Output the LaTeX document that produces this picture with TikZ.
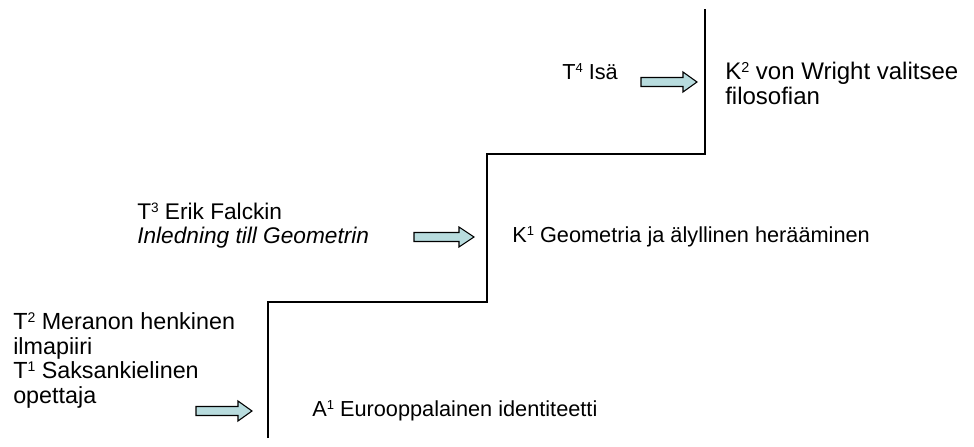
\documentclass[tikz,border=0pt]{standalone}
\usepackage{fontspec}
\setmainfont{Liberation Sans}
\definecolor{arrowcol}{RGB}{184,220,222}
\newcommand\supr[1]{\raisebox{0.29em}{\fontsize{0.6em}{1em}\selectfont #1}}
\newcommand\blkarrow[4]{%
  \draw[arrowfill] ({#1},{#3-4.5}) -- ({#2-#4},{#3-4.5}) -- ({#2-#4},{#3-10}) -- ({#2},{#3})
    -- ({#2-#4},{#3+10}) -- ({#2-#4},{#3+4.5}) -- ({#1},{#3+4.5}) -- cycle;}
\begin{document}
\begin{tikzpicture}[x=0.75pt,y=-0.75pt,
  lbl/.style={anchor=base west, inner sep=0pt, font=\fontsize{17}{19}\selectfont},
  lblsmall/.style={lbl, font=\fontsize{16.3}{19}\selectfont},
  lblmid/.style={lbl, font=\fontsize{17.5}{19}\selectfont},
  lblbig/.style={lbl, font=\fontsize{18}{19}\selectfont},
  stair/.style={line width=1.5pt, line join=miter},
  arrowfill/.style={draw=black, line width=0.8pt, fill=arrowcol, line join=miter}]
\useasboundingbox (0,0) rectangle (974,446);
% stairs
\coordinate (s0) at (268,438);
\coordinate (s1) at (268,302);
\coordinate (s2) at (487,302);
\coordinate (s3) at (487,154);
\coordinate (s4) at (705,154);
\coordinate (s5) at (705,9);
\draw[stair] (s0) -- (s1) -- (s2) -- (s3) -- (s4) -- (s5);
% texts
\node[lblsmall] (t4) at (562,79) {T\supr{4} Isä};
\node[lblbig] (k2a) at (725,79) {K\supr{2} von Wright valitsee};
\node[lblbig] (k2b) at (725,104) {filosofian};
\node[lbl] (t3a) at (137,219) {T\supr{3} Erik Falckin};
\node[lbl] (t3b) at (137,243) {\itshape Inledning till Geometrin};
\node[lblsmall] (k1) at (512,242) {K\supr{1} Geometria ja älyllinen herääminen};
\node[lblmid] (t2a) at (13,329) {T\supr{2} Meranon henkinen};
\node[lblmid] (t2b) at (13,354) {ilmapiiri};
\node[lblmid] (t1a) at (13,378) {T\supr{1} Saksankielinen};
\node[lblmid] (t1b) at (13,403) {opettaja};
\node[lblsmall] (a1) at (312,416) {A\supr{1} Eurooppalainen identiteetti};
% block arrows
\blkarrow{641}{697}{82}{14}
\blkarrow{414}{474}{237}{15}
\blkarrow{196}{252}{411}{14}
\end{tikzpicture}
\end{document}
